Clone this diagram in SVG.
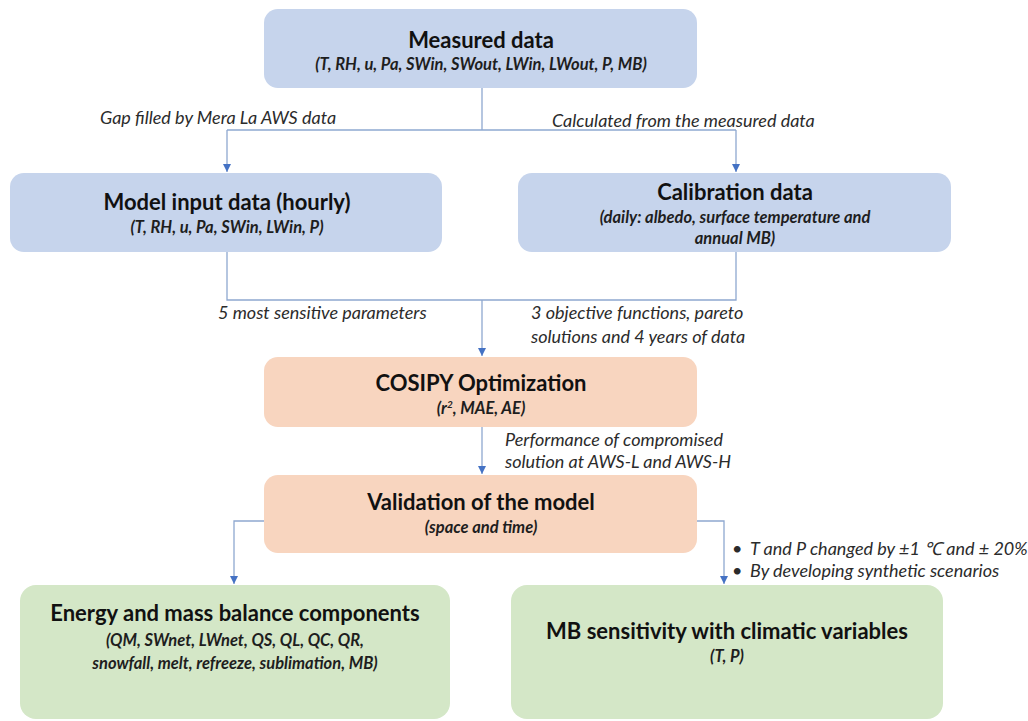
<svg xmlns="http://www.w3.org/2000/svg" width="1028" height="721" viewBox="0 0 1028 721">
<defs>
<style>
.blue{fill:#c6d4ec}
.orange{fill:#f8d5bf}
.green{fill:#d4e7c7}
.title{font-family:Lato,"Liberation Sans",sans-serif;font-weight:bold;font-size:22px;fill:#111;text-anchor:middle}
.sub{font-family:Lato,"Liberation Sans",sans-serif;font-weight:bold;font-style:italic;font-size:16.5px;fill:#1e1e1e;text-anchor:middle}
.lbl{font-family:Lato,"Liberation Sans",sans-serif;font-style:italic;font-size:18px;fill:#2b2b2b}
.con{fill:none;stroke:#8ea8d0;stroke-width:1.3}
</style>
<marker id="arr" viewBox="0 0 10 10" refX="10" refY="5" markerWidth="8" markerHeight="8" markerUnits="userSpaceOnUse" orient="auto">
<path d="M0,0 L10,5 L0,10 Z" fill="#4472c4"/>
</marker>
</defs>
<rect width="1028" height="721" fill="#ffffff"/>
<g id="connectors">
<path class="con" d="M482,88 V130"/>
<path class="con" d="M227,130 H736"/>
<path class="con" d="M227,130 V172" marker-end="url(#arr)"/>
<path class="con" d="M736,130 V172" marker-end="url(#arr)"/>
<path class="con" d="M227,252 V300 H736 V252"/>
<path class="con" d="M482,300 V356" marker-end="url(#arr)"/>
<path class="con" d="M482,427 V474" marker-end="url(#arr)"/>
<path class="con" d="M264,521 H234 V584" marker-end="url(#arr)"/>
<path class="con" d="M697,521 H724 V584" marker-end="url(#arr)"/>
</g>
<g id="labels">
<text class="lbl" x="100" y="124">Gap filled by Mera La AWS data</text>
<text class="lbl" x="552" y="127">Calculated from the measured data</text>
<text class="lbl" x="218" y="319">5 most sensitive parameters</text>
<text class="lbl" x="531" y="319">3 objective functions, pareto</text>
<text class="lbl" x="531" y="343">solutions and 4 years of data</text>
<text class="lbl" x="505" y="446">Performance of compromised</text>
<text class="lbl" x="505" y="468">solution at AWS-L and AWS-H</text>
<text class="lbl" x="732" y="555" font-size="17">•</text>
<text class="lbl" x="750" y="555" font-size="17">T and P changed by ±1 ℃ and ± 20%</text>
<text class="lbl" x="732" y="577" font-size="17">•</text>
<text class="lbl" x="750" y="577" font-size="17">By developing synthetic scenarios</text>
</g>
<g id="measured">
<rect class="blue" x="264" y="9" width="433" height="79" rx="14"/>
<text class="title" x="481" y="48">Measured data</text>
<text class="sub" x="481" y="70">(T, RH, u, Pa, SWin, SWout, LWin, LWout, P, MB)</text>
</g>
<g id="model-input">
<rect class="blue" x="10" y="173" width="432" height="79" rx="14"/>
<text class="title" x="227" y="210">Model input data (hourly)</text>
<text class="sub" x="227" y="233">(T, RH, u, Pa, SWin, LWin, P)</text>
</g>
<g id="calibration">
<rect class="blue" x="518" y="173" width="433" height="79" rx="14"/>
<text class="title" x="735" y="200">Calibration data</text>
<text class="sub" x="735" y="223">(daily: albedo, surface temperature and</text>
<text class="sub" x="735" y="244">annual MB)</text>
</g>
<g id="cosipy">
<rect class="orange" x="264" y="357" width="433" height="70" rx="14"/>
<text class="title" x="481" y="391">COSIPY Optimization</text>
<text class="sub" x="481" y="414">(r<tspan font-size="10" dy="-6">2</tspan><tspan dy="6">, MAE, AE)</tspan></text>
</g>
<g id="validation">
<rect class="orange" x="264" y="475" width="433" height="78" rx="14"/>
<text class="title" x="481" y="510">Validation of the model</text>
<text class="sub" x="481" y="533">(space and time)</text>
</g>
<g id="energy">
<rect class="green" x="20" y="585" width="430" height="134" rx="16"/>
<text class="title" x="235" y="621">Energy and mass balance components</text>
<text class="sub" x="235" y="646">(QM, SWnet, LWnet, QS, QL, QC, QR,</text>
<text class="sub" x="235" y="669">snowfall, melt, refreeze, sublimation, MB)</text>
</g>
<g id="sensitivity">
<rect class="green" x="511" y="585" width="432" height="134" rx="16"/>
<text class="title" x="727" y="639">MB sensitivity with climatic variables</text>
<text class="sub" x="727" y="662">(T, P)</text>
</g>
</svg>
